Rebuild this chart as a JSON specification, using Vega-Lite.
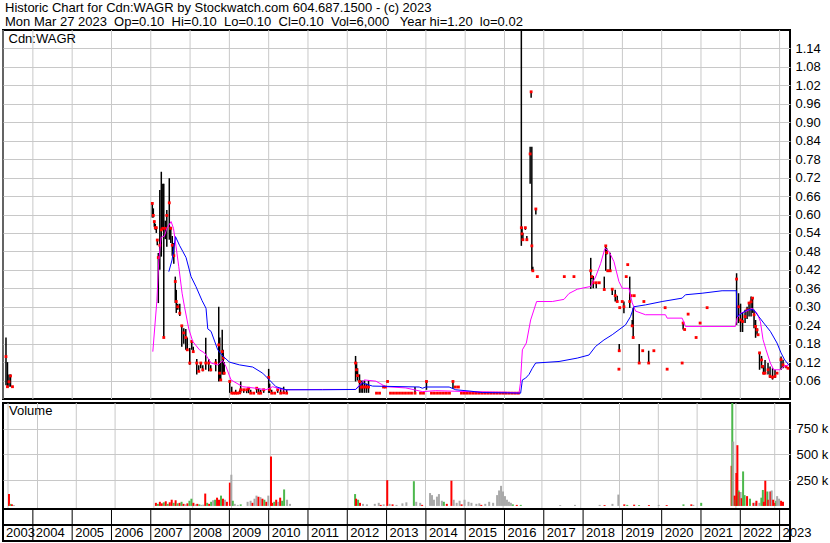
{
  "$schema": "https://vega.github.io/schema/vega-lite/v6.json",
  "background": "white",
  "padding": {"left": 1, "top": 1, "right": 0, "bottom": 0},
  "bounds": "flush",
  "title": {
    "text": ["Historic Chart for Cdn:WAGR by Stockwatch.com 604.687.1500 - (c) 2023", "Mon Mar 27 2023 \u00a0Op=0.10 \u00a0Hi=0.10 \u00a0Lo=0.10 \u00a0Cl=0.10 \u00a0Vol=6,000 \u00a0 Year hi=1.20 \u00a0lo=0.02"],
    "anchor": "start", "frame": "group", "font": "Liberation Sans", "fontSize": 13, "fontWeight": "normal",
    "color": "#000000", "lineHeight": 14, "offset": 0, "dx": 2
  },
  "config": {
    "view": {"stroke": "#000000", "strokeWidth": 2},
    "font": "Liberation Sans",
    "axis": {"labelFont": "Liberation Sans", "labelFontSize": 13, "labelColor": "#000000", "gridColor": "#C8C8C8", "gridWidth": 1, "gridOpacity": 1, "labelOverlap": false, "labelBound": false}
  },
  "resolve": {"scale": {"color": "independent"}},
  "datasets": {
    "px": [
      {"t":2003.316,"hi":0.20,"lo":0.045,"cl":0.138},
      {"t":2003.354,"hi":0.12,"lo":0.04,"cl":0.04},
      {"t":2003.392,"hi":0.08,"lo":0.04,"cl":0.056},
      {"t":2003.431,"hi":0.08,"lo":0.04,"cl":0.075},
      {"t":2003.481,"hi":0.04,"lo":0.04,"cl":0.04},
      {"t":2007.039,"hi":0.64,"lo":0.59,"cl":0.636},
      {"t":2007.065,"hi":0.62,"lo":0.59,"cl":0.597},
      {"t":2007.090,"hi":0.58,"lo":0.56,"cl":0.577},
      {"t":2007.115,"hi":0.57,"lo":0.55,"cl":0.557},
      {"t":2007.141,"hi":0.56,"lo":0.54,"cl":0.557},
      {"t":2007.166,"hi":0.52,"lo":0.50,"cl":0.517},
      {"t":2007.192,"hi":0.475,"lo":0.312,"cl":0.46},
      {"t":2007.230,"hi":0.68,"lo":0.42,"cl":0.50},
      {"t":2007.268,"hi":0.739,"lo":0.463,"cl":0.55},
      {"t":2007.306,"hi":0.70,"lo":0.55,"cl":0.555},
      {"t":2007.331,"hi":0.70,"lo":0.20,"cl":0.20},
      {"t":2007.370,"hi":0.58,"lo":0.52,"cl":0.555},
      {"t":2007.408,"hi":0.615,"lo":0.495,"cl":0.597},
      {"t":2007.471,"hi":0.718,"lo":0.518,"cl":0.638},
      {"t":2007.509,"hi":0.56,"lo":0.507,"cl":0.555},
      {"t":2007.547,"hi":0.53,"lo":0.466,"cl":0.50},
      {"t":2007.586,"hi":0.507,"lo":0.44,"cl":0.466},
      {"t":2007.624,"hi":0.398,"lo":0.312,"cl":0.382},
      {"t":2007.649,"hi":0.355,"lo":0.28,"cl":0.317},
      {"t":2007.687,"hi":0.31,"lo":0.29,"cl":0.30},
      {"t":2007.738,"hi":0.31,"lo":0.27,"cl":0.279},
      {"t":2007.789,"hi":0.241,"lo":0.17,"cl":0.238},
      {"t":2007.840,"hi":0.23,"lo":0.18,"cl":0.215},
      {"t":2007.891,"hi":0.228,"lo":0.16,"cl":0.20},
      {"t":2007.929,"hi":0.20,"lo":0.16,"cl":0.16},
      {"t":2007.992,"hi":0.166,"lo":0.111,"cl":0.117},
      {"t":2008.043,"hi":0.19,"lo":0.16,"cl":0.187},
      {"t":2008.081,"hi":0.17,"lo":0.15,"cl":0.154},
      {"t":2008.170,"hi":0.13,"lo":0.08,"cl":0.117},
      {"t":2008.221,"hi":0.11,"lo":0.09,"cl":0.09},
      {"t":2008.272,"hi":0.12,"lo":0.10,"cl":0.117},
      {"t":2008.323,"hi":0.11,"lo":0.09,"cl":0.095},
      {"t":2008.399,"hi":0.199,"lo":0.095,"cl":0.117},
      {"t":2008.475,"hi":0.13,"lo":0.09,"cl":0.117},
      {"t":2008.526,"hi":0.11,"lo":0.09,"cl":0.095},
      {"t":2008.653,"hi":0.13,"lo":0.09,"cl":0.117},
      {"t":2008.729,"hi":0.30,"lo":0.057,"cl":0.176},
      {"t":2008.755,"hi":0.20,"lo":0.06,"cl":0.084},
      {"t":2008.780,"hi":0.12,"lo":0.06,"cl":0.062},
      {"t":2008.818,"hi":0.225,"lo":0.08,"cl":0.154},
      {"t":2008.844,"hi":0.16,"lo":0.08,"cl":0.133},
      {"t":2008.869,"hi":0.12,"lo":0.08,"cl":0.084},
      {"t":2009.009,"hi":0.057,"lo":0.02,"cl":0.057},
      {"t":2009.060,"hi":0.04,"lo":0.02,"cl":0.019},
      {"t":2009.110,"hi":0.02,"lo":0.02,"cl":0.019},
      {"t":2009.161,"hi":0.03,"lo":0.02,"cl":0.019},
      {"t":2009.212,"hi":0.02,"lo":0.019,"cl":0.019},
      {"t":2009.263,"hi":0.03,"lo":0.02,"cl":0.02},
      {"t":2009.288,"hi":0.057,"lo":0.02,"cl":0.03},
      {"t":2009.365,"hi":0.03,"lo":0.02,"cl":0.03},
      {"t":2009.441,"hi":0.03,"lo":0.019,"cl":0.03},
      {"t":2009.492,"hi":0.035,"lo":0.019,"cl":0.035},
      {"t":2009.542,"hi":0.03,"lo":0.02,"cl":0.019},
      {"t":2009.619,"hi":0.02,"lo":0.019,"cl":0.019},
      {"t":2009.695,"hi":0.035,"lo":0.02,"cl":0.035},
      {"t":2009.746,"hi":0.035,"lo":0.02,"cl":0.019},
      {"t":2009.797,"hi":0.03,"lo":0.019,"cl":0.019},
      {"t":2009.873,"hi":0.03,"lo":0.02,"cl":0.03},
      {"t":2010.000,"hi":0.098,"lo":0.02,"cl":0.07},
      {"t":2010.025,"hi":0.05,"lo":0.02,"cl":0.03},
      {"t":2010.076,"hi":0.03,"lo":0.019,"cl":0.019},
      {"t":2010.152,"hi":0.02,"lo":0.019,"cl":0.019},
      {"t":2010.229,"hi":0.03,"lo":0.02,"cl":0.03},
      {"t":2010.305,"hi":0.035,"lo":0.019,"cl":0.019},
      {"t":2010.381,"hi":0.04,"lo":0.02,"cl":0.02},
      {"t":2010.457,"hi":0.03,"lo":0.019,"cl":0.019},
      {"t":2012.211,"hi":0.14,"lo":0.057,"cl":0.117},
      {"t":2012.236,"hi":0.12,"lo":0.08,"cl":0.095},
      {"t":2012.262,"hi":0.10,"lo":0.06,"cl":0.076},
      {"t":2012.312,"hi":0.08,"lo":0.02,"cl":0.057},
      {"t":2012.351,"hi":0.06,"lo":0.02,"cl":0.039},
      {"t":2012.389,"hi":0.06,"lo":0.02,"cl":0.039},
      {"t":2012.440,"hi":0.06,"lo":0.02,"cl":0.039},
      {"t":2012.490,"hi":0.05,"lo":0.02,"cl":0.039},
      {"t":2012.541,"hi":0.06,"lo":0.02,"cl":0.039},
      {"t":2012.744,"hi":0.019,"lo":0.019,"cl":0.019},
      {"t":2012.821,"hi":0.019,"lo":0.019,"cl":0.019},
      {"t":2012.922,"hi":0.039,"lo":0.039,"cl":0.039},
      {"t":2012.973,"hi":0.039,"lo":0.039,"cl":0.039},
      {"t":2013.024,"hi":0.057,"lo":0.057,"cl":0.057},
      {"t":2013.100,"hi":0.019,"lo":0.019,"cl":0.019},
      {"t":2013.176,"hi":0.019,"lo":0.019,"cl":0.019},
      {"t":2013.253,"hi":0.019,"lo":0.019,"cl":0.019},
      {"t":2013.329,"hi":0.019,"lo":0.019,"cl":0.019},
      {"t":2013.405,"hi":0.019,"lo":0.019,"cl":0.019},
      {"t":2013.481,"hi":0.019,"lo":0.019,"cl":0.019},
      {"t":2013.558,"hi":0.019,"lo":0.019,"cl":0.019},
      {"t":2013.634,"hi":0.019,"lo":0.019,"cl":0.019},
      {"t":2013.723,"hi":0.039,"lo":0.019,"cl":0.019},
      {"t":2013.863,"hi":0.019,"lo":0.019,"cl":0.019},
      {"t":2013.939,"hi":0.019,"lo":0.019,"cl":0.019},
      {"t":2014.015,"hi":0.057,"lo":0.03,"cl":0.057},
      {"t":2014.142,"hi":0.019,"lo":0.019,"cl":0.019},
      {"t":2014.218,"hi":0.019,"lo":0.019,"cl":0.019},
      {"t":2014.295,"hi":0.019,"lo":0.019,"cl":0.019},
      {"t":2014.371,"hi":0.019,"lo":0.019,"cl":0.019},
      {"t":2014.447,"hi":0.019,"lo":0.019,"cl":0.019},
      {"t":2014.523,"hi":0.019,"lo":0.019,"cl":0.019},
      {"t":2014.600,"hi":0.019,"lo":0.019,"cl":0.019},
      {"t":2014.689,"hi":0.057,"lo":0.033,"cl":0.057},
      {"t":2014.752,"hi":0.039,"lo":0.039,"cl":0.039},
      {"t":2014.828,"hi":0.039,"lo":0.039,"cl":0.039},
      {"t":2014.905,"hi":0.019,"lo":0.019,"cl":0.019},
      {"t":2014.981,"hi":0.019,"lo":0.019,"cl":0.019},
      {"t":2015.057,"hi":0.019,"lo":0.019,"cl":0.019},
      {"t":2015.133,"hi":0.019,"lo":0.019,"cl":0.019},
      {"t":2015.210,"hi":0.019,"lo":0.019,"cl":0.019},
      {"t":2015.286,"hi":0.019,"lo":0.019,"cl":0.019},
      {"t":2015.362,"hi":0.019,"lo":0.019,"cl":0.019},
      {"t":2015.438,"hi":0.019,"lo":0.019,"cl":0.019},
      {"t":2015.514,"hi":0.019,"lo":0.019,"cl":0.019},
      {"t":2015.591,"hi":0.019,"lo":0.019,"cl":0.019},
      {"t":2015.667,"hi":0.019,"lo":0.019,"cl":0.019},
      {"t":2015.743,"hi":0.019,"lo":0.019,"cl":0.019},
      {"t":2015.819,"hi":0.019,"lo":0.019,"cl":0.019},
      {"t":2015.896,"hi":0.019,"lo":0.019,"cl":0.019},
      {"t":2015.972,"hi":0.019,"lo":0.019,"cl":0.019},
      {"t":2016.048,"hi":0.019,"lo":0.019,"cl":0.019},
      {"t":2016.124,"hi":0.019,"lo":0.019,"cl":0.019},
      {"t":2016.201,"hi":0.019,"lo":0.019,"cl":0.019},
      {"t":2016.277,"hi":0.019,"lo":0.019,"cl":0.019},
      {"t":2016.353,"hi":0.019,"lo":0.019,"cl":0.019},
      {"t":2016.429,"hi":1.20,"lo":0.498,"cl":0.557},
      {"t":2016.447,"hi":0.56,"lo":0.53,"cl":0.537},
      {"t":2016.468,"hi":0.54,"lo":0.518,"cl":0.518},
      {"t":2016.531,"hi":0.56,"lo":0.55,"cl":0.557},
      {"t":2016.569,"hi":0.53,"lo":0.518,"cl":0.518},
      {"t":2016.653,"hi":0.82,"lo":0.70,"cl":0.797},
      {"t":2016.678,"hi":1.0,"lo":0.98,"cl":0.999},
      {"t":2016.696,"hi":0.82,"lo":0.417,"cl":0.498},
      {"t":2016.721,"hi":0.43,"lo":0.417,"cl":0.417},
      {"t":2016.798,"hi":0.62,"lo":0.60,"cl":0.618},
      {"t":2016.836,"hi":0.40,"lo":0.398,"cl":0.398},
      {"t":2017.522,"hi":0.398,"lo":0.398,"cl":0.398},
      {"t":2017.768,"hi":0.398,"lo":0.398,"cl":0.398},
      {"t":2018.195,"hi":0.459,"lo":0.358,"cl":0.417},
      {"t":2018.221,"hi":0.40,"lo":0.39,"cl":0.398},
      {"t":2018.259,"hi":0.40,"lo":0.36,"cl":0.378},
      {"t":2018.335,"hi":0.38,"lo":0.36,"cl":0.378},
      {"t":2018.412,"hi":0.378,"lo":0.378,"cl":0.378},
      {"t":2018.539,"hi":0.398,"lo":0.356,"cl":0.356},
      {"t":2018.577,"hi":0.50,"lo":0.417,"cl":0.498},
      {"t":2018.602,"hi":0.49,"lo":0.47,"cl":0.476},
      {"t":2018.627,"hi":0.42,"lo":0.417,"cl":0.417},
      {"t":2018.691,"hi":0.476,"lo":0.417,"cl":0.417},
      {"t":2018.742,"hi":0.36,"lo":0.338,"cl":0.357},
      {"t":2018.818,"hi":0.355,"lo":0.317,"cl":0.336},
      {"t":2018.869,"hi":0.336,"lo":0.317,"cl":0.317},
      {"t":2018.912,"hi":0.10,"lo":0.097,"cl":0.097},
      {"t":2018.920,"hi":0.179,"lo":0.157,"cl":0.157},
      {"t":2018.932,"hi":0.30,"lo":0.297,"cl":0.297},
      {"t":2018.996,"hi":0.317,"lo":0.317,"cl":0.317},
      {"t":2019.039,"hi":0.317,"lo":0.279,"cl":0.30},
      {"t":2019.098,"hi":0.398,"lo":0.398,"cl":0.398},
      {"t":2019.136,"hi":0.437,"lo":0.437,"cl":0.437},
      {"t":2019.187,"hi":0.398,"lo":0.296,"cl":0.317},
      {"t":2019.225,"hi":0.336,"lo":0.336,"cl":0.336},
      {"t":2019.250,"hi":0.257,"lo":0.238,"cl":0.238},
      {"t":2019.275,"hi":0.296,"lo":0.196,"cl":0.20},
      {"t":2019.301,"hi":0.336,"lo":0.336,"cl":0.336},
      {"t":2019.428,"hi":0.179,"lo":0.118,"cl":0.117},
      {"t":2019.517,"hi":0.157,"lo":0.157,"cl":0.157},
      {"t":2019.547,"hi":0.317,"lo":0.317,"cl":0.317},
      {"t":2019.669,"hi":0.157,"lo":0.117,"cl":0.117},
      {"t":2019.801,"hi":0.157,"lo":0.157,"cl":0.157},
      {"t":2020.088,"hi":0.297,"lo":0.297,"cl":0.297},
      {"t":2020.139,"hi":0.097,"lo":0.097,"cl":0.097},
      {"t":2020.521,"hi":0.117,"lo":0.117,"cl":0.117},
      {"t":2020.546,"hi":0.247,"lo":0.226,"cl":0.247},
      {"t":2020.584,"hi":0.226,"lo":0.226,"cl":0.226},
      {"t":2020.673,"hi":0.276,"lo":0.276,"cl":0.276},
      {"t":2020.876,"hi":0.20,"lo":0.20,"cl":0.20},
      {"t":2020.978,"hi":0.247,"lo":0.247,"cl":0.247},
      {"t":2021.156,"hi":0.297,"lo":0.297,"cl":0.297},
      {"t":2021.906,"hi":0.409,"lo":0.241,"cl":0.39},
      {"t":2021.956,"hi":0.344,"lo":0.247,"cl":0.30},
      {"t":2022.007,"hi":0.31,"lo":0.218,"cl":0.257},
      {"t":2022.058,"hi":0.28,"lo":0.218,"cl":0.252},
      {"t":2022.122,"hi":0.29,"lo":0.247,"cl":0.268},
      {"t":2022.173,"hi":0.30,"lo":0.26,"cl":0.29},
      {"t":2022.223,"hi":0.31,"lo":0.268,"cl":0.312},
      {"t":2022.274,"hi":0.333,"lo":0.268,"cl":0.316},
      {"t":2022.312,"hi":0.33,"lo":0.28,"cl":0.328},
      {"t":2022.350,"hi":0.29,"lo":0.23,"cl":0.274},
      {"t":2022.389,"hi":0.257,"lo":0.199,"cl":0.236},
      {"t":2022.427,"hi":0.23,"lo":0.21,"cl":0.225},
      {"t":2022.452,"hi":0.209,"lo":0.209,"cl":0.209},
      {"t":2022.490,"hi":0.15,"lo":0.095,"cl":0.15},
      {"t":2022.541,"hi":0.14,"lo":0.10,"cl":0.127},
      {"t":2022.567,"hi":0.11,"lo":0.10,"cl":0.106},
      {"t":2022.592,"hi":0.106,"lo":0.08,"cl":0.084},
      {"t":2022.630,"hi":0.127,"lo":0.084,"cl":0.084},
      {"t":2022.706,"hi":0.117,"lo":0.08,"cl":0.095},
      {"t":2022.757,"hi":0.106,"lo":0.068,"cl":0.074},
      {"t":2022.821,"hi":0.10,"lo":0.063,"cl":0.071},
      {"t":2022.884,"hi":0.095,"lo":0.068,"cl":0.074},
      {"t":2022.935,"hi":0.084,"lo":0.084,"cl":0.084},
      {"t":2023.037,"hi":0.138,"lo":0.095,"cl":0.128},
      {"t":2023.088,"hi":0.128,"lo":0.10,"cl":0.111},
      {"t":2023.164,"hi":0.11,"lo":0.10,"cl":0.106},
      {"t":2023.214,"hi":0.10,"lo":0.10,"cl":0.10}
    ],
    "ma": [
      {"t":2007.052,"v":0.154,"s":"m"},{"t":2007.154,"v":0.317,"s":"m"},{"t":2007.204,"v":0.452,"s":"m"},
      {"t":2007.263,"v":0.526,"s":"m"},{"t":2007.349,"v":0.53,"s":"m"},{"t":2007.408,"v":0.555,"s":"m"},
      {"t":2007.517,"v":0.577,"s":"m"},{"t":2007.578,"v":0.555,"s":"m"},{"t":2007.644,"v":0.495,"s":"m"},
      {"t":2007.713,"v":0.43,"s":"m"},{"t":2007.797,"v":0.344,"s":"m"},{"t":2007.858,"v":0.30,"s":"m"},
      {"t":2007.967,"v":0.228,"s":"m"},{"t":2008.068,"v":0.187,"s":"m"},{"t":2008.239,"v":0.16,"s":"m"},
      {"t":2008.366,"v":0.15,"s":"m"},{"t":2008.534,"v":0.117,"s":"m"},{"t":2008.704,"v":0.111,"s":"m"},
      {"t":2008.831,"v":0.125,"s":"m"},{"t":2008.915,"v":0.105,"s":"m"},{"t":2009.042,"v":0.062,"s":"m"},
      {"t":2009.339,"v":0.04,"s":"m"},{"t":2009.677,"v":0.035,"s":"m"},{"t":2009.931,"v":0.03,"s":"m"},
      {"t":2010.102,"v":0.04,"s":"m"},{"t":2010.356,"v":0.03,"s":"m"},{"t":2011.372,"v":0.031,"s":"m"},
      {"t":2012.211,"v":0.031,"s":"m"},{"t":2012.432,"v":0.062,"s":"m"},{"t":2012.727,"v":0.058,"s":"m"},
      {"t":2012.897,"v":0.046,"s":"m"},{"t":2012.981,"v":0.04,"s":"m"},{"t":2013.489,"v":0.036,"s":"m"},
      {"t":2013.913,"v":0.024,"s":"m"},{"t":2014.251,"v":0.027,"s":"m"},{"t":2015.100,"v":0.024,"s":"m"},
      {"t":2016.023,"v":0.022,"s":"m"},{"t":2016.371,"v":0.02,"s":"m"},{"t":2016.404,"v":0.05,"s":"m"},
      {"t":2016.455,"v":0.16,"s":"m"},{"t":2016.556,"v":0.182,"s":"m"},{"t":2016.666,"v":0.257,"s":"m"},
      {"t":2016.818,"v":0.317,"s":"m"},{"t":2017.217,"v":0.317,"s":"m"},{"t":2017.514,"v":0.324,"s":"m"},
      {"t":2017.641,"v":0.343,"s":"m"},{"t":2017.852,"v":0.357,"s":"m"},{"t":2018.191,"v":0.366,"s":"m"},
      {"t":2018.318,"v":0.397,"s":"m"},{"t":2018.445,"v":0.44,"s":"m"},{"t":2018.556,"v":0.49,"s":"m"},
      {"t":2018.658,"v":0.48,"s":"m"},{"t":2018.785,"v":0.447,"s":"m"},{"t":2018.912,"v":0.382,"s":"m"},
      {"t":2018.996,"v":0.36,"s":"m"},{"t":2019.166,"v":0.36,"s":"m"},{"t":2019.250,"v":0.313,"s":"m"},
      {"t":2019.334,"v":0.286,"s":"m"},{"t":2019.588,"v":0.274,"s":"m"},{"t":2020.096,"v":0.274,"s":"m"},
      {"t":2020.139,"v":0.263,"s":"m"},{"t":2020.521,"v":0.263,"s":"m"},{"t":2020.605,"v":0.236,"s":"m"},
      {"t":2021.876,"v":0.236,"s":"m"},{"t":2021.919,"v":0.263,"s":"m"},{"t":2022.002,"v":0.279,"s":"m"},
      {"t":2022.129,"v":0.284,"s":"m"},{"t":2022.299,"v":0.295,"s":"m"},{"t":2022.427,"v":0.279,"s":"m"},
      {"t":2022.511,"v":0.252,"s":"m"},{"t":2022.579,"v":0.193,"s":"m"},{"t":2022.656,"v":0.16,"s":"m"},
      {"t":2022.765,"v":0.117,"s":"m"},{"t":2022.851,"v":0.095,"s":"m"},{"t":2023.019,"v":0.095,"s":"m"},
      {"t":2023.105,"v":0.106,"s":"m"},{"t":2023.232,"v":0.111,"s":"m"},
      {"t":2007.459,"v":0.414,"s":"b"},{"t":2007.542,"v":0.452,"s":"b"},{"t":2007.629,"v":0.528,"s":"b"},
      {"t":2007.730,"v":0.50,"s":"b"},{"t":2007.814,"v":0.48,"s":"b"},{"t":2007.898,"v":0.46,"s":"b"},
      {"t":2008.025,"v":0.398,"s":"b"},{"t":2008.152,"v":0.365,"s":"b"},{"t":2008.305,"v":0.32,"s":"b"},
      {"t":2008.406,"v":0.295,"s":"b"},{"t":2008.450,"v":0.228,"s":"b"},{"t":2008.534,"v":0.22,"s":"b"},
      {"t":2008.704,"v":0.16,"s":"b"},{"t":2008.831,"v":0.14,"s":"b"},{"t":2009.001,"v":0.12,"s":"b"},
      {"t":2009.255,"v":0.111,"s":"b"},{"t":2009.593,"v":0.104,"s":"b"},{"t":2009.847,"v":0.084,"s":"b"},
      {"t":2010.018,"v":0.062,"s":"b"},{"t":2010.185,"v":0.04,"s":"b"},{"t":2010.440,"v":0.03,"s":"b"},
      {"t":2011.372,"v":0.03,"s":"b"},{"t":2012.211,"v":0.031,"s":"b"},{"t":2012.389,"v":0.052,"s":"b"},
      {"t":2012.643,"v":0.042,"s":"b"},{"t":2013.830,"v":0.039,"s":"b"},{"t":2013.913,"v":0.035,"s":"b"},
      {"t":2013.997,"v":0.039,"s":"b"},{"t":2014.592,"v":0.039,"s":"b"},{"t":2014.760,"v":0.03,"s":"b"},
      {"t":2015.100,"v":0.026,"s":"b"},{"t":2015.438,"v":0.021,"s":"b"},{"t":2016.073,"v":0.02,"s":"b"},
      {"t":2016.411,"v":0.019,"s":"b"},{"t":2016.455,"v":0.062,"s":"b"},{"t":2016.539,"v":0.068,"s":"b"},
      {"t":2016.625,"v":0.08,"s":"b"},{"t":2016.709,"v":0.10,"s":"b"},{"t":2016.793,"v":0.117,"s":"b"},
      {"t":2017.388,"v":0.122,"s":"b"},{"t":2017.852,"v":0.133,"s":"b"},{"t":2018.150,"v":0.143,"s":"b"},
      {"t":2018.318,"v":0.171,"s":"b"},{"t":2018.531,"v":0.192,"s":"b"},{"t":2018.742,"v":0.209,"s":"b"},
      {"t":2019.080,"v":0.241,"s":"b"},{"t":2019.207,"v":0.268,"s":"b"},{"t":2019.293,"v":0.30,"s":"b"},
      {"t":2019.588,"v":0.306,"s":"b"},{"t":2020.012,"v":0.317,"s":"b"},{"t":2020.521,"v":0.328,"s":"b"},
      {"t":2020.605,"v":0.339,"s":"b"},{"t":2021.029,"v":0.344,"s":"b"},{"t":2021.537,"v":0.352,"s":"b"},
      {"t":2021.900,"v":0.352,"s":"b"},{"t":2021.918,"v":0.268,"s":"b"},{"t":2022.045,"v":0.279,"s":"b"},
      {"t":2022.173,"v":0.29,"s":"b"},{"t":2022.343,"v":0.29,"s":"b"},{"t":2022.470,"v":0.268,"s":"b"},
      {"t":2022.597,"v":0.247,"s":"b"},{"t":2022.765,"v":0.22,"s":"b"},{"t":2022.935,"v":0.182,"s":"b"},
      {"t":2023.037,"v":0.15,"s":"b"},{"t":2023.130,"v":0.127,"s":"b"},{"t":2023.232,"v":0.111,"s":"b"}
    ],
    "vol": [
      {"t":2003.265,"v":116000,"c":"d"},{"t":2003.304,"v":20000,"c":"u"},{"t":2003.342,"v":15000,"c":"d"},{"t":2003.392,"v":8000,"c":"n"},
      {"t":2007.052,"v":30000,"c":"d"},{"t":2007.103,"v":20000,"c":"u"},{"t":2007.154,"v":40000,"c":"d"},{"t":2007.204,"v":25000,"c":"d"},
      {"t":2007.255,"v":35000,"c":"u"},{"t":2007.306,"v":45000,"c":"d"},{"t":2007.357,"v":20000,"c":"u"},{"t":2007.408,"v":35000,"c":"d"},
      {"t":2007.459,"v":60000,"c":"d"},{"t":2007.509,"v":30000,"c":"u"},{"t":2007.560,"v":55000,"c":"d"},{"t":2007.611,"v":25000,"c":"u"},
      {"t":2007.662,"v":30000,"c":"d"},{"t":2007.713,"v":40000,"c":"u"},{"t":2007.764,"v":20000,"c":"d"},{"t":2007.814,"v":15000,"c":"n"},
      {"t":2007.865,"v":25000,"c":"d"},{"t":2007.916,"v":50000,"c":"u"},{"t":2007.967,"v":70000,"c":"u"},{"t":2008.018,"v":30000,"c":"d"},
      {"t":2008.068,"v":15000,"c":"n"},{"t":2008.119,"v":20000,"c":"d"},{"t":2008.170,"v":15000,"c":"u"},{"t":2008.221,"v":10000,"c":"n"},
      {"t":2008.272,"v":12000,"c":"n"},{"t":2008.323,"v":120000,"c":"d"},{"t":2008.373,"v":30000,"c":"u"},{"t":2008.424,"v":20000,"c":"d"},
      {"t":2008.475,"v":40000,"c":"u"},{"t":2008.526,"v":55000,"c":"n"},{"t":2008.577,"v":60000,"c":"u"},{"t":2008.628,"v":80000,"c":"d"},
      {"t":2008.678,"v":60000,"c":"d"},{"t":2008.729,"v":100000,"c":"u"},{"t":2008.780,"v":70000,"c":"d"},{"t":2008.831,"v":60000,"c":"n"},
      {"t":2008.882,"v":40000,"c":"d"},{"t":2008.958,"v":226000,"c":"d"},{"t":2008.996,"v":303000,"c":"n"},{"t":2009.034,"v":50000,"c":"u"},
      {"t":2009.085,"v":20000,"c":"n"},{"t":2009.161,"v":10000,"c":"n"},{"t":2009.237,"v":15000,"c":"u"},
      {"t":2009.415,"v":40000,"c":"n"},{"t":2009.492,"v":50000,"c":"n"},{"t":2009.542,"v":30000,"c":"d"},{"t":2009.593,"v":70000,"c":"n"},
      {"t":2009.644,"v":100000,"c":"n"},{"t":2009.695,"v":90000,"c":"d"},{"t":2009.746,"v":85000,"c":"n"},{"t":2009.797,"v":70000,"c":"d"},
      {"t":2009.847,"v":60000,"c":"u"},{"t":2009.898,"v":40000,"c":"d"},{"t":2009.949,"v":100000,"c":"n"},{"t":2010.018,"v":480000,"c":"d"},
      {"t":2010.051,"v":30000,"c":"d"},{"t":2010.102,"v":40000,"c":"u"},{"t":2010.152,"v":60000,"c":"d"},{"t":2010.203,"v":40000,"c":"n"},
      {"t":2010.254,"v":80000,"c":"d"},{"t":2010.305,"v":50000,"c":"u"},{"t":2010.356,"v":160000,"c":"u"},{"t":2010.432,"v":60000,"c":"n"},
      {"t":2010.508,"v":20000,"c":"n"},
      {"t":2012.185,"v":115000,"c":"u"},{"t":2012.211,"v":70000,"c":"d"},{"t":2012.262,"v":60000,"c":"u"},{"t":2012.312,"v":30000,"c":"d"},
      {"t":2012.389,"v":20000,"c":"n"},{"t":2012.490,"v":15000,"c":"n"},{"t":2012.693,"v":20000,"c":"n"},{"t":2012.795,"v":30000,"c":"n"},
      {"t":2012.846,"v":10000,"c":"d"},{"t":2012.922,"v":15000,"c":"n"},{"t":2013.014,"v":250000,"c":"d"},{"t":2013.075,"v":20000,"c":"n"},
      {"t":2013.151,"v":15000,"c":"d"},{"t":2013.253,"v":10000,"c":"n"},{"t":2013.405,"v":25000,"c":"n"},{"t":2013.507,"v":35000,"c":"n"},
      {"t":2013.700,"v":240000,"c":"u"},{"t":2013.761,"v":40000,"c":"n"},{"t":2013.863,"v":30000,"c":"n"},{"t":2013.913,"v":10000,"c":"d"},
      {"t":2014.117,"v":125000,"c":"n"},{"t":2014.168,"v":105000,"c":"n"},{"t":2014.218,"v":60000,"c":"n"},{"t":2014.295,"v":90000,"c":"n"},
      {"t":2014.346,"v":115000,"c":"n"},{"t":2014.422,"v":50000,"c":"n"},{"t":2014.473,"v":40000,"c":"u"},{"t":2014.549,"v":20000,"c":"d"},
      {"t":2014.668,"v":245000,"c":"d"},{"t":2014.727,"v":60000,"c":"n"},{"t":2014.803,"v":30000,"c":"n"},{"t":2014.879,"v":50000,"c":"n"},
      {"t":2014.930,"v":15000,"c":"d"},{"t":2015.006,"v":60000,"c":"n"},
      {"t":2015.108,"v":40000,"c":"n"},{"t":2015.184,"v":30000,"c":"n"},{"t":2015.311,"v":20000,"c":"n"},{"t":2015.387,"v":25000,"c":"n"},
      {"t":2015.438,"v":10000,"c":"d"},{"t":2015.540,"v":20000,"c":"n"},{"t":2015.641,"v":40000,"c":"n"},{"t":2015.743,"v":30000,"c":"n"},
      {"t":2015.845,"v":105000,"c":"n"},{"t":2015.896,"v":150000,"c":"n"},{"t":2015.947,"v":195000,"c":"n"},{"t":2015.997,"v":140000,"c":"n"},
      {"t":2016.048,"v":95000,"c":"n"},{"t":2016.099,"v":60000,"c":"n"},{"t":2016.150,"v":40000,"c":"n"},{"t":2016.201,"v":30000,"c":"n"},
      {"t":2016.251,"v":15000,"c":"u"},{"t":2016.353,"v":10000,"c":"d"},{"t":2016.455,"v":10000,"c":"u"},
      {"t":2017.471,"v":8000,"c":"n"},{"t":2017.852,"v":10000,"c":"n"},{"t":2018.488,"v":10000,"c":"n"},{"t":2018.615,"v":8000,"c":"d"},
      {"t":2018.818,"v":20000,"c":"n"},{"t":2018.970,"v":110000,"c":"n"},{"t":2019.123,"v":15000,"c":"d"},{"t":2019.199,"v":10000,"c":"u"},
      {"t":2019.377,"v":12000,"c":"d"},{"t":2019.504,"v":8000,"c":"u"},{"t":2019.758,"v":8000,"c":"d"},{"t":2020.012,"v":10000,"c":"n"},
      {"t":2020.216,"v":8000,"c":"d"},{"t":2020.648,"v":15000,"c":"u"},{"t":2020.851,"v":15000,"c":"d"},{"t":2020.902,"v":10000,"c":"n"},
      {"t":2021.105,"v":30000,"c":"u"},
      {"t":2021.888,"v":390000,"c":"d"},{"t":2021.906,"v":1000000,"c":"u"},{"t":2021.931,"v":625000,"c":"n"},{"t":2021.969,"v":100000,"c":"d"},
      {"t":2021.995,"v":60000,"c":"u"},{"t":2022.012,"v":320000,"c":"d"},{"t":2022.038,"v":590000,"c":"d"},{"t":2022.071,"v":150000,"c":"u"},
      {"t":2022.096,"v":135000,"c":"d"},{"t":2022.122,"v":135000,"c":"n"},{"t":2022.147,"v":75000,"c":"d"},{"t":2022.185,"v":335000,"c":"u"},
      {"t":2022.223,"v":105000,"c":"u"},{"t":2022.287,"v":95000,"c":"d"},{"t":2022.363,"v":70000,"c":"u"},{"t":2022.452,"v":30000,"c":"d"},
      {"t":2022.490,"v":30000,"c":"n"},{"t":2022.528,"v":50000,"c":"d"},{"t":2022.605,"v":30000,"c":"n"},{"t":2022.656,"v":80000,"c":"u"},
      {"t":2022.694,"v":155000,"c":"u"},{"t":2022.719,"v":40000,"c":"d"},{"t":2022.757,"v":245000,"c":"d"},{"t":2022.808,"v":140000,"c":"u"},
      {"t":2022.833,"v":60000,"c":"d"},{"t":2022.871,"v":140000,"c":"n"},{"t":2022.897,"v":140000,"c":"d"},{"t":2022.922,"v":150000,"c":"n"},
      {"t":2022.960,"v":60000,"c":"d"},{"t":2023.011,"v":30000,"c":"d"},{"t":2023.037,"v":50000,"c":"u"},{"t":2023.062,"v":95000,"c":"n"},
      {"t":2023.113,"v":70000,"c":"n"},{"t":2023.164,"v":50000,"c":"d"},{"t":2023.214,"v":40000,"c":"d"}
    ],
    "years": [
      {"t":2003.24,"y":"2003"},{"t":2004,"y":"2004"},{"t":2005,"y":"2005"},{"t":2006,"y":"2006"},{"t":2007,"y":"2007"},
      {"t":2008,"y":"2008"},{"t":2009,"y":"2009"},{"t":2010,"y":"2010"},{"t":2011,"y":"2011"},{"t":2012,"y":"2012"},
      {"t":2013,"y":"2013"},{"t":2014,"y":"2014"},{"t":2015,"y":"2015"},{"t":2016,"y":"2016"},{"t":2017,"y":"2017"},
      {"t":2018,"y":"2018"},{"t":2019,"y":"2019"},{"t":2020,"y":"2020"},{"t":2021,"y":"2021"},{"t":2022,"y":"2022"},
      {"t":2023,"y":"2023"}
    ]
  },
  "spacing": 4,
  "vconcat": [
    {
      "width": 787,
      "height": 369,
      "title": {"text": "Cdn:WAGR", "anchor": "start", "offset": -16, "dx": 6, "fontSize": 13, "fontWeight": "normal", "color": "#000000", "font": "Liberation Sans"},
      "encoding": {
        "x": {"field": "t", "type": "quantitative",
          "scale": {"domain": [2003.24, 2023.265], "nice": false, "zero": false}, "axis": null}
      },
      "layer": [
        {
          "data": {"name": "years"},
          "mark": {"type": "rule", "color": "#C8C8C8", "strokeWidth": 1}
        },
        {
          "data": {"name": "px"},
          "mark": {"type": "rule", "color": "#000000", "strokeWidth": 1.5, "clip": true},
          "encoding": {
            "y": {"field": "lo", "type": "quantitative",
              "scale": {"domain": [0, 1.2], "nice": false, "zero": true},
              "axis": {"orient": "right", "values": [0.06,0.12,0.18,0.24,0.30,0.36,0.42,0.48,0.54,0.60,0.66,0.72,0.78,0.84,0.90,0.96,1.02,1.08,1.14],
                "format": ".2f", "grid": true, "ticks": false, "domain": false, "labelPadding": 5, "labelOverlap": false, "title": null}},
            "y2": {"field": "hi"}
          }
        },
        {
          "data": {"name": "px"},
          "mark": {"type": "square", "color": "#FF0000", "size": 8, "opacity": 1, "clip": true},
          "encoding": {"y": {"field": "cl", "type": "quantitative",
              "axis": {"orient": "right", "values": [0.06,0.12,0.18,0.24,0.30,0.36,0.42,0.48,0.54,0.60,0.66,0.72,0.78,0.84,0.90,0.96,1.02,1.08,1.14],
                "format": ".2f", "grid": true, "ticks": false, "domain": false, "labelPadding": 5, "labelOverlap": false, "title": null}}}
        },
        {
          "data": {"name": "ma"},
          "mark": {"type": "line", "strokeWidth": 1, "clip": true},
          "encoding": {
            "y": {"field": "v", "type": "quantitative",
              "axis": {"orient": "right", "values": [0.06,0.12,0.18,0.24,0.30,0.36,0.42,0.48,0.54,0.60,0.66,0.72,0.78,0.84,0.90,0.96,1.02,1.08,1.14],
                "format": ".2f", "grid": true, "ticks": false, "domain": false, "labelPadding": 5, "labelOverlap": false, "title": null}},
            "color": {"field": "s", "type": "nominal", "scale": {"domain": ["m", "b"], "range": ["#FF00FF", "#0000FF"]}, "legend": null}
          }
        }
      ]
    },
    {
      "spacing": 0,
      "bounds": "flush",
      "resolve": {"scale": {"color": "independent"}},
      "vconcat": [
        {
          "width": 787,
          "height": 106,
          "title": {"text": "Volume", "anchor": "start", "offset": -15, "dx": 6, "fontSize": 13, "fontWeight": "normal", "color": "#000000", "font": "Liberation Sans"},
          "encoding": {
            "x": {"field": "t", "type": "quantitative",
              "scale": {"domain": [2003.24, 2023.265], "nice": false, "zero": false}, "axis": null}
          },
          "layer": [
            {
              "data": {"name": "years"},
              "mark": {"type": "rule", "color": "#C8C8C8", "strokeWidth": 1}
            },
            {
              "data": {"name": "vol"},
              "mark": {"type": "bar", "size": 2, "clip": true},
              "encoding": {
                "y": {"field": "v", "type": "quantitative",
                  "scale": {"domain": [-30000, 1000000], "nice": false, "zero": false, "clamp": true},
                  "axis": {"orient": "right", "values": [250000, 500000, 750000], "labelExpr": "format(datum.value/1000, 'd') + ' k'",
                    "grid": true, "ticks": false, "domain": false, "labelPadding": 6, "labelOverlap": false, "title": null}},
                "color": {"field": "c", "type": "nominal", "scale": {"domain": ["u", "d", "n"], "range": ["#4CB84C", "#FF0000", "#A9A9A9"]}, "legend": null}
              }
            }
          ]
        },
        {
          "width": 787,
          "height": 16,
          "data": {"name": "years"},
          "mark": {"type": "rule", "color": "#000000", "strokeWidth": 1},
          "encoding": {
            "x": {"field": "t", "type": "quantitative", "scale": {"domain": [2003.24, 2023.265], "nice": false, "zero": false}, "axis": null}
          }
        },
        {
          "width": 787,
          "height": 16,
          "data": {"name": "years"},
          "layer": [
            {
              "mark": {"type": "rule", "color": "#000000", "strokeWidth": 1},
              "encoding": {
                "x": {"field": "t", "type": "quantitative", "scale": {"domain": [2003.24, 2023.265], "nice": false, "zero": false}, "axis": null}
              }
            },
            {
              "mark": {"type": "text", "align": "left", "baseline": "middle", "dx": 3, "fontSize": 13, "font": "Liberation Sans", "color": "#000000"},
              "encoding": {
                "x": {"field": "t", "type": "quantitative", "axis": null},
                "text": {"field": "y", "type": "nominal"}
              }
            }
          ]
        }
      ]
    }
  ]
}
